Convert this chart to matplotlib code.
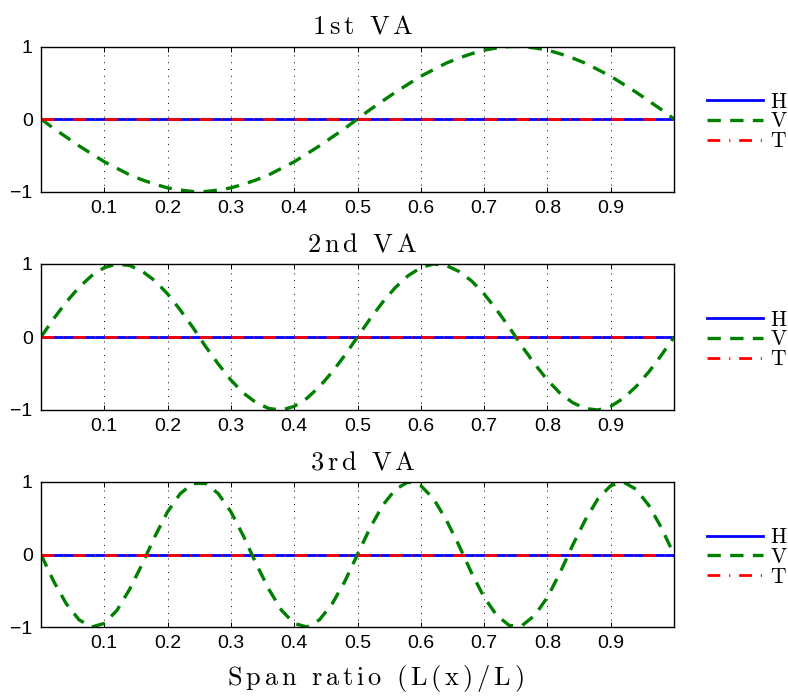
import numpy as np
import matplotlib
matplotlib.use("Agg")
import matplotlib.pyplot as plt

plt.rcParams["mathtext.fontset"] = "cm"
plt.rcParams["font.family"] = ["Liberation Sans", "DejaVu Sans"]

# Span positions (L(x)/L) where the mode shapes are sampled
span_ratio = np.linspace(0.0, 1.0, 51)

# Vertical component of each vibration mode
v_mode1 = [0.00, -0.13, -0.25, -0.37, -0.48, -0.59, -0.68, -0.77, -0.84, -0.90,
           -0.95, -0.98, -1.00, -1.00, -0.98, -0.95, -0.90, -0.84, -0.77, -0.68,
           -0.59, -0.48, -0.37, -0.25, -0.13, 0.00, 0.13, 0.25, 0.37, 0.48,
           0.59, 0.68, 0.77, 0.84, 0.90, 0.95, 0.98, 1.00, 1.00, 0.98,
           0.95, 0.90, 0.84, 0.77, 0.68, 0.59, 0.48, 0.37, 0.25, 0.13, 0.00]
v_mode2 = [0.00, 0.25, 0.48, 0.68, 0.84, 0.95, 1.00, 0.98, 0.90, 0.77,
           0.59, 0.37, 0.13, -0.13, -0.37, -0.59, -0.77, -0.90, -0.98, -1.00,
           -0.95, -0.84, -0.68, -0.48, -0.25, 0.00, 0.25, 0.48, 0.68, 0.84,
           0.95, 1.00, 0.98, 0.90, 0.77, 0.59, 0.37, 0.13, -0.13, -0.37,
           -0.59, -0.77, -0.90, -0.98, -1.00, -0.95, -0.84, -0.68, -0.48, -0.25, 0.00]
v_mode3 = [0.00, -0.37, -0.68, -0.90, -1.00, -0.95, -0.77, -0.48, -0.13, 0.25,
           0.59, 0.84, 0.98, 0.98, 0.84, 0.59, 0.25, -0.13, -0.48, -0.77,
           -0.95, -1.00, -0.90, -0.68, -0.37, 0.00, 0.37, 0.68, 0.90, 1.00,
           0.95, 0.77, 0.48, 0.13, -0.25, -0.59, -0.84, -0.98, -0.98, -0.84,
           -0.59, -0.25, 0.13, 0.48, 0.77, 0.95, 1.00, 0.90, 0.68, 0.37, 0.00]

# Horizontal and torsional components (zero for these vertical modes)
h_zero = [0.0] * 51
t_zero = [0.0] * 51

titles = ["1st VA", "2nd VA", "3rd VA"]
v_modes = [v_mode1, v_mode2, v_mode3]
x_ticks = [0.1, 0.2, 0.3, 0.4, 0.5, 0.6, 0.7, 0.8, 0.9]
x_tick_labels = ["0.1", "0.2", "0.3", "0.4", "0.5", "0.6", "0.7", "0.8", "0.9"]
y_ticks = [-1, 0, 1]
y_tick_labels = ["\u22121", "0", "1"]
x_label = "Span ratio (L(x)/L)"


def tracked(text):
    """Computer Modern roman text with a little extra letter spacing."""
    parts = [r"\ " if c == " " else c for c in text]
    return r"$\mathrm{" + r"\,".join(parts) + "}$"


W, H = 788, 696
fig = plt.figure(figsize=(W / 100, H / 100), dpi=100)

# axes boxes in pixels: (top, bottom)
boxes = [(46.5, 191.5), (264, 410), (482, 627)]
left_px, right_px = 41, 674

for (top, bot), title, v in zip(boxes, titles, v_modes):
    ax = fig.add_axes([left_px / W, 1 - bot / H,
                       (right_px - left_px) / W, (bot - top) / H])
    ax.plot(span_ratio, h_zero, color="#0000ff", lw=2.0, label=r"$\mathrm{H}$")
    ax.plot(span_ratio, v, color="#008000", lw=2.4, dashes=(4.0, 2.8),
            label=r"$\mathrm{V}$")
    ax.plot(span_ratio, t_zero, color="#ff0000", lw=2.0,
            dashes=(4.6, 3.2, 0.4, 3.2), label=r"$\mathrm{T}$")

    ax.set_xlim(0, 1)
    ax.set_ylim(-1, 1)
    ax.set_xticks(x_ticks)
    ax.set_xticklabels(x_tick_labels)
    ax.set_yticks(y_ticks)
    ax.set_yticklabels(y_tick_labels)
    ax.tick_params(direction="in", length=3.6, width=0.7, top=True, right=True,
                   labelsize=14, pad=6, colors="black")
    ax.xaxis.grid(True, color="black", lw=0.7, linestyle=(0, (1, 6)))
    for s in ax.spines.values():
        s.set_linewidth(1.0)

    ax.set_title(tracked(title), fontsize=19, pad=9, x=0.508)
    ax.legend(loc="center left", bbox_to_anchor=(1.052, 0.48), frameon=False,
              fontsize=15.5, borderpad=0, borderaxespad=0, handlelength=2.6,
              handletextpad=0.33, labelspacing=-0.06)

ax.set_xlabel(tracked(x_label), fontsize=19)
ax.xaxis.set_label_coords(0.528, -0.245)
fig.savefig("out.png", dpi=100)
